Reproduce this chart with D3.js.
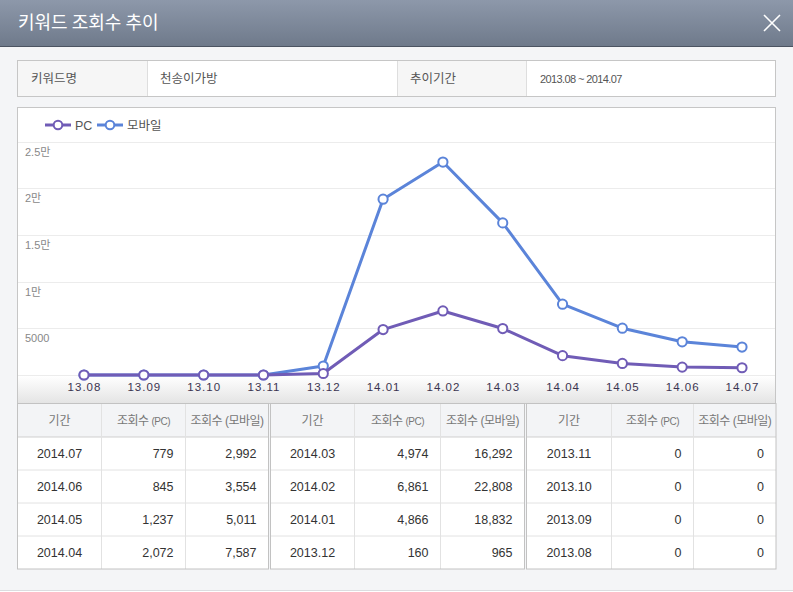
<!DOCTYPE html>
<html>
<head>
<meta charset="utf-8">
<script src="https://cdn.jsdelivr.net/npm/d3@7"></script>
<style>
  html, body { margin: 0; padding: 0; background: #f4f5f7; }
  svg { display: block; font-family: "Liberation Sans", "Noto Sans CJK KR", sans-serif; }
</style>
</head>
<body>
<svg width="793" height="592"></svg>
<script>
const months = ["13.08", "13.09", "13.10", "13.11", "13.12", "14.01", "14.02", "14.03", "14.04", "14.05", "14.06", "14.07"];
const pcViews = [0, 0, 0, 0, 160, 4866, 6861, 4974, 2072, 1237, 845, 779];
const mobileViews = [0, 0, 0, 0, 965, 18832, 22808, 16292, 7587, 5011, 3554, 2992];
const yTicks = [5000, 10000, 15000, 20000, 25000];
const yTickLabels = ["5000", "1만", "1.5만", "2만", "2.5만"];
const keyword = "천송이가방";
const periodText = "2013.08 ~ 2014.07";

const svg = d3.select("svg");
const defs = svg.append("defs");

const hg = defs.append("linearGradient").attr("id", "hdr").attr("x1", 0).attr("y1", 0).attr("x2", 0).attr("y2", 1);
hg.append("stop").attr("offset", "0%").attr("stop-color", "#8d98aa");
hg.append("stop").attr("offset", "100%").attr("stop-color", "#6f7a8b");

const ag = defs.append("linearGradient").attr("id", "axisband").attr("x1", 0).attr("y1", 0).attr("x2", 0).attr("y2", 1);
ag.append("stop").attr("offset", "0%").attr("stop-color", "#ffffff");
ag.append("stop").attr("offset", "100%").attr("stop-color", "#e4e4e4");

// header bar
svg.append("rect").attr("width", 793).attr("height", 46).attr("fill", "url(#hdr)");
svg.append("line").attr("x1", 0).attr("x2", 793).attr("y1", 46.5).attr("y2", 46.5).attr("stroke", "#4c5462");
svg.append("text").attr("x", 18).attr("y", 29).attr("fill", "#fff")
  .style("font-size", "18px").style("font-family", "'Noto Sans CJK KR', sans-serif")
  .text("키워드 조회수 추이");
svg.append("path").attr("d", "M764,15L780,31M780,15L764,31")
  .attr("stroke", "#fff").attr("stroke-width", 1.6).attr("fill", "none");

// info row
const info = svg.append("g");
info.append("rect").attr("x", 17.5).attr("y", 60.5).attr("width", 758).attr("height", 36)
  .attr("fill", "#fff").attr("stroke", "#c6c6c6");
[[18, 129], [397.5, 129]].forEach(([x, w]) => {
  info.append("rect").attr("x", x).attr("y", 61).attr("width", w).attr("height", 35).attr("fill", "#f6f6f6");
});
[147.5, 397.5, 526.5].forEach(x => {
  info.append("line").attr("x1", x).attr("x2", x).attr("y1", 61).attr("y2", 96).attr("stroke", "#dedede");
});
const infoText = [[31, "키워드명", "12.5px"], [160, keyword, "12.5px"], [410, "추이기간", "12.5px"], [540, periodText, "11px"]];
infoText.forEach(([x, t, fs]) => {
  info.append("text").attr("x", x).attr("y", 83).attr("fill", "#555").style("font-size", fs)
    .style("letter-spacing", t === periodText ? "-0.6px" : "0px").text(t);
});

// chart box
const box = { x: 17.5, y: 107.5, w: 758, h: 296 };
svg.append("rect").attr("x", box.x).attr("y", box.y).attr("width", box.w).attr("height", box.h)
  .attr("fill", "#fff").attr("stroke", "#c6c6c6");

const x = d3.scalePoint().domain(months).range([84, 742]);
const y = d3.scaleLinear().domain([0, 25000]).range([375, 141.6]);

// grid
const grid = svg.append("g");
grid.selectAll("line").data([0].concat(yTicks)).join("line")
  .attr("x1", 18).attr("x2", 775)
  .attr("y1", d => Math.round(y(d)) + 0.5).attr("y2", d => Math.round(y(d)) + 0.5)
  .attr("stroke", "#ececec");
grid.selectAll("text").data(yTicks).join("text")
  .attr("x", 25).attr("y", d => y(d) + 14)
  .attr("fill", "#888").style("font-size", "11px")
  .text((d, i) => yTickLabels[i]);

// axis band
svg.append("rect").attr("x", 18).attr("y", 376).attr("width", 757).attr("height", 27).attr("fill", "url(#axisband)");
const xAxis = svg.append("g").attr("transform", "translate(0,376)")
  .call(d3.axisBottom(x).tickSize(0).tickPadding(7));
xAxis.select(".domain").remove();
xAxis.selectAll("text").attr("fill", "#3b3450").style("font-size", "11.5px").style("letter-spacing", "1px")
  .style("font-family", "'Liberation Sans', sans-serif");

// series
const series = [
  { name: "PC", values: pcViews, color: "#705cb6" },
  { name: "모바일", values: mobileViews, color: "#5b84d9" }
];
const line = d3.line().x((d, i) => x(months[i])).y(d => y(d));

// draw mobile first so PC sits on top where they overlap
series.slice().reverse().forEach(s => {
  const g = svg.append("g");
  g.append("path").datum(s.values).attr("d", line)
    .attr("fill", "none").attr("stroke", s.color).attr("stroke-width", 3).attr("stroke-linejoin", "round");
  g.selectAll("circle").data(s.values).join("circle")
    .attr("cx", (d, i) => x(months[i])).attr("cy", d => y(d)).attr("r", 4.6)
    .attr("fill", "#fff").attr("stroke", s.color).attr("stroke-width", 2);
});

// legend
const legend = svg.append("g");
let lx = 45;
series.forEach(s => {
  legend.append("line").attr("x1", lx).attr("x2", lx + 26).attr("y1", 125).attr("y2", 125)
    .attr("stroke", s.color).attr("stroke-width", 3);
  legend.append("circle").attr("cx", lx + 13).attr("cy", 125).attr("r", 4.3)
    .attr("fill", "#fff").attr("stroke", s.color).attr("stroke-width", 2);
  const t = legend.append("text").attr("x", lx + 30).attr("y", 129.5).attr("fill", "#555")
    .style("font-size", "12.5px").text(s.name);
  lx += 52;
});

// data table
const tTop = 403.5, headH = 33.5, rowH = 33;
const groupX = [17.5, 270.5, 526.5];
const colW = [[84, 84, 83], [84, 86, 84], [85, 82, 82.5]];
const rows = months.map((m, i) => ({ period: "20" + m, pc: pcViews[i], mobile: mobileViews[i] })).reverse();
const fmt = d3.format(",");
const table = svg.append("g");
const tableH = headH + rowH * 4;

groupX.forEach((gx, gi) => {
  const ws = colW[gi];
  const gw = d3.sum(ws);
  table.append("rect").attr("x", gx).attr("y", tTop).attr("width", gw).attr("height", tableH).attr("fill", "#fff");
  table.append("rect").attr("x", gx).attr("y", tTop).attr("width", gw).attr("height", headH).attr("fill", "#f3f4f6");
  // row lines
  for (let r = 1; r <= 4; r++) {
    const yy = tTop + headH + rowH * (r - 1);
    table.append("line").attr("x1", gx).attr("x2", gx + gw).attr("y1", yy).attr("y2", yy)
      .attr("stroke", r === 1 ? "#cfcfcf" : "#e2e2e2");
  }
  // col lines
  let cx = gx;
  ws.slice(0, 2).forEach(w => {
    cx += w;
    table.append("line").attr("x1", cx).attr("x2", cx).attr("y1", tTop).attr("y2", tTop + tableH).attr("stroke", "#e2e2e2");
  });
  // group border
  table.append("rect").attr("x", gx).attr("y", tTop).attr("width", gw).attr("height", tableH)
    .attr("fill", "none").attr("stroke", "#c2c2c2");

  // header text
  const c0 = gx + ws[0] / 2, c1 = gx + ws[0] + ws[1] / 2, c2 = gx + ws[0] + ws[1] + ws[2] / 2;
  const hy = tTop + 21;
  table.append("text").attr("x", c0).attr("y", hy).attr("text-anchor", "middle").attr("fill", "#777")
    .style("font-size", "12px").text("기간");
  [[c1, "(PC)"], [c2, "(모바일)"]].forEach(([c, sub]) => {
    const t = table.append("text").attr("x", c).attr("y", hy).attr("text-anchor", "middle").attr("fill", "#777")
      .style("font-size", "12px").style("letter-spacing", "-0.5px");
    t.append("tspan").text("조회수 ");
    t.append("tspan").style("font-size", sub === "(PC)" ? "10px" : "12px").text(sub);
  });

  // body
  rows.slice(gi * 4, gi * 4 + 4).forEach((d, r) => {
    const ry = tTop + headH + rowH * r + 21;
    table.append("text").attr("x", c0).attr("y", ry).attr("text-anchor", "middle").attr("fill", "#333")
      .style("font-size", "12.5px").text(d.period);
    table.append("text").attr("x", gx + ws[0] + ws[1] - 12).attr("y", ry).attr("text-anchor", "end").attr("fill", "#333")
      .style("font-size", "12.5px").text(fmt(d.pc));
    table.append("text").attr("x", gx + gw - 12).attr("y", ry).attr("text-anchor", "end").attr("fill", "#333")
      .style("font-size", "12.5px").text(fmt(d.mobile));
  });
});

// bottom edge
svg.append("line").attr("x1", 0).attr("x2", 793).attr("y1", 590.5).attr("y2", 590.5).attr("stroke", "#dcdde0");
svg.append("rect").attr("x", 0).attr("y", 591).attr("width", 793).attr("height", 1).attr("fill", "#fff");
</script>
</body>
</html>
